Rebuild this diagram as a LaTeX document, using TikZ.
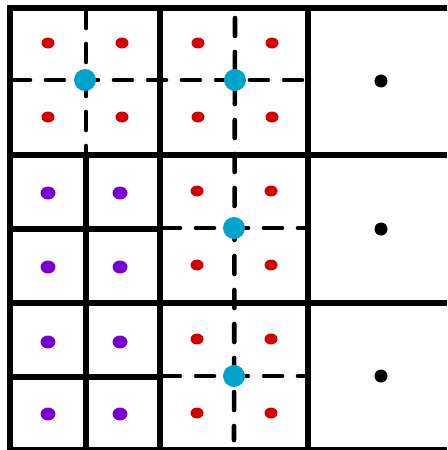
\documentclass[tikz,border=0pt]{standalone}
\usepackage{tikz}
\definecolor{redpt}{HTML}{D40000}
\definecolor{purplept}{HTML}{7A00D2}
\definecolor{cyanpt}{HTML}{00A3CC}

\begin{document}
\begin{tikzpicture}[x=0.5pt,y=-0.5pt,
  grid/.style={line width=2.9pt},
  cut/.style={line width=2.3pt,line cap=round,dash pattern=on 9pt off 8pt}]
  \useasboundingbox (0,0) rectangle (447,450);
  % dashed split lines of the refined cells
  \draw[cut] (12,80) -- (306,80);
  \draw[cut] (86,10) -- (86,155);
  \draw[cut] (235,18) -- (234,440);
  \draw[cut] (162,228) -- (306,228);
  \draw[cut] (162,376) -- (306,376);
  % coarse grid
  \draw[grid] (447,8) -- (10,8) -- (10,452);
  \draw[grid] (10,450) -- (447,450);
  \draw[grid] (10,155) -- (447,155);
  \draw[grid] (10,303) -- (447,303);
  \draw[grid] (160,8) -- (160,452);
  \draw[grid] (308,8) -- (308,452);
  % fine grid, left column
  \draw[grid] (86,155) -- (86,452);
  \draw[grid] (10,229) -- (160,229);
  \draw[grid] (10,377) -- (160,377);
  % red points around each split centre
  \foreach \cx/\cy in {85/80,235/80,234/228,234/376}
    \foreach \dx in {-37,37}
      \foreach \dy in {-37,37}
        \fill[redpt] (\cx+\dx,\cy+\dy) ellipse[x radius=6.5,y radius=5.5];
  \foreach \cx/\cy in {85/80,235/80,234/228,234/376}
    \fill[cyanpt] (\cx,\cy) circle[radius=11];
  % purple points in the fine cells
  \foreach \px in {48,120}
    \foreach \py in {193,267,342,414}
      \fill[purplept] (\px,\py) ellipse[x radius=7.5,y radius=6.5];
  % black points in the right column
  \foreach \py in {81,229,376}
    \fill[black] (381,\py) circle[radius=6.5];
\end{tikzpicture}
\end{document}
